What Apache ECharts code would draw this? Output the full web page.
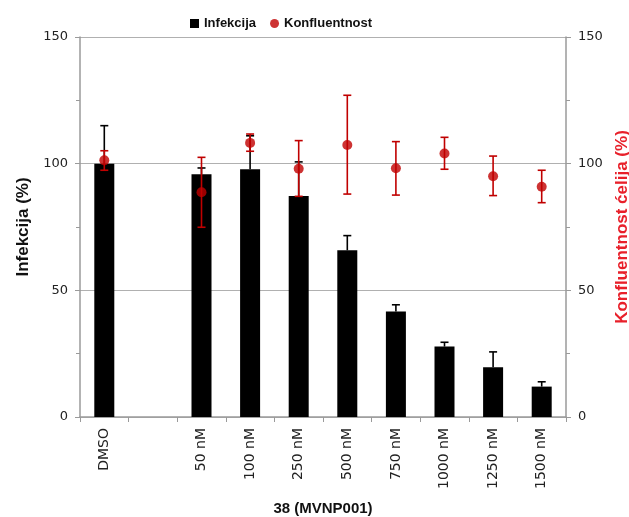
<!DOCTYPE html>
<html>
<head>
<meta charset="utf-8">
<script src="https://cdn.jsdelivr.net/npm/echarts@6/dist/echarts.min.js"></script>
<style>html,body{margin:0;padding:0;background:#fff;overflow:hidden}#c{width:629px;height:517px}</style>
</head>
<body>
<div id="c"></div>
<script>
var categories = ['DMSO', '', '50 nM', '100 nM', '250 nM', '500 nM', '750 nM', '1000 nM', '1250 nM', '1500 nM'];
var infekcija = [100, null, 95.8, 97.8, 87.2, 65.8, 41.6, 27.8, 19.6, 12.0];
var infekcijaErrTop = [115, null, 98.3, 111, 100.7, 71.6, 44.3, 29.5, 25.7, 13.9];
var konfluentnost = [101.3, null, 88.7, 108.2, 98.0, 107.4, 98.2, 104.0, 95.0, 90.9];
var konfLow = [97.4, null, 74.9, 104.9, 87.1, 88.0, 87.6, 97.8, 87.4, 84.6];
var konfHigh = [105.1, null, 102.5, 111.7, 109.1, 127.0, 108.7, 110.4, 103.0, 97.4];
var yTicks = [0, 50, 100, 150];

var barErrData = [], konfErrData = [], scatterData = [];
for (var i = 0; i < categories.length; i++) {
  if (infekcija[i] != null) barErrData.push([i, infekcija[i], infekcijaErrTop[i]]);
  if (konfluentnost[i] != null) {
    konfErrData.push([i, konfLow[i], konfHigh[i]]);
    scatterData.push([i, konfluentnost[i]]);
  }
}

function errRender(color, bottomCap) {
  return function (params, api) {
    var x = api.value(0);
    var lo = api.coord([x, api.value(1)]);
    var hi = api.coord([x, api.value(2)]);
    var hw = 4;
    var st = { stroke: color, lineWidth: 1.6 };
    var ch = [
      { type: 'line', shape: { x1: lo[0], y1: lo[1], x2: hi[0], y2: hi[1] }, style: st },
      { type: 'line', shape: { x1: hi[0] - hw, y1: hi[1], x2: hi[0] + hw, y2: hi[1] }, style: st }
    ];
    if (bottomCap) ch.push({ type: 'line', shape: { x1: lo[0] - hw, y1: lo[1], x2: lo[0] + hw, y2: lo[1] }, style: st });
    return { type: 'group', children: ch };
  };
}

var axisGray = '#9a9a9a';
var tickFont = { fontFamily: 'DejaVu Sans', fontSize: 13, color: '#222' };
var chart = echarts.init(document.getElementById('c'), null, { renderer: 'canvas' });
chart.setOption({
  animation: false,
  backgroundColor: '#fff',
  legend: {
    left: 185, top: 12,
    itemWidth: 9, itemHeight: 9, itemGap: 14,
    textStyle: { fontFamily: 'Liberation Sans', fontWeight: 'bold', fontSize: 13, color: '#111' },
    data: [
      { name: 'Infekcija', icon: 'rect', itemStyle: { color: '#000', borderWidth: 0 } },
      { name: 'Konfluentnost', icon: 'circle' }
    ]
  },
  grid: { left: 80, right: 63, top: 37, bottom: 100, containLabel: false, outerBoundsMode: 'none' },
  xAxis: {
    type: 'category',
    data: categories,
    name: '38 (MVNP001)',
    nameLocation: 'middle',
    nameGap: 84,
    nameTextStyle: { fontFamily: 'Liberation Sans', fontWeight: 'bold', fontSize: 15, color: '#111' },
    axisLine: { lineStyle: { color: axisGray, width: 1.5 } },
    axisTick: { show: true, alignWithLabel: false, length: 5, lineStyle: { color: axisGray } },
    axisLabel: { rotate: 90, interval: 0, margin: 11, fontSize: 14, fontFamily: 'DejaVu Sans', color: '#222' }
  },
  yAxis: [
    {
      type: 'value', min: 0, max: 150, interval: 50,
      name: 'Infekcija (%)', nameLocation: 'middle', nameGap: 48, nameRotate: 90,
      nameTextStyle: { fontFamily: 'Liberation Sans', fontWeight: 'bold', fontSize: 17, color: '#111' },
      axisLine: { show: true, lineStyle: { color: axisGray, width: 1.5 } },
      axisTick: { show: true, length: 5, lineStyle: { color: axisGray } },
      minorTick: { show: true, splitNumber: 2, length: 4, lineStyle: { color: axisGray } },
      axisLabel: Object.assign({ margin: 12, formatter: function (v) { return yTicks.indexOf(v) >= 0 ? String(v) : ''; } }, tickFont),
      splitLine: { show: true, lineStyle: { color: '#b0b0b0', width: 1.2 } }
    },
    {
      type: 'value', min: 0, max: 150, interval: 50, position: 'right',
      name: 'Konfluentnost ćelija (%)', nameLocation: 'middle', nameGap: 46, nameRotate: 90,
      nameTextStyle: { fontFamily: 'Liberation Sans', fontWeight: 'bold', fontSize: 17, color: '#e8202a' },
      axisLine: { show: true, lineStyle: { color: axisGray, width: 1.5 } },
      axisTick: { show: true, length: 5, lineStyle: { color: axisGray } },
      minorTick: { show: true, splitNumber: 2, length: 4, lineStyle: { color: axisGray } },
      axisLabel: Object.assign({ margin: 12, formatter: function (v) { return yTicks.indexOf(v) >= 0 ? String(v) : ''; } }, tickFont),
      splitLine: { show: false }
    }
  ],
  series: [
    {
      name: 'Infekcija', type: 'bar', data: infekcija, barWidth: 20,
      itemStyle: { color: '#000' }, z: 2
    },
    {
      name: 'InfErr', type: 'custom', data: barErrData, renderItem: errRender('#000', false),
      encode: { x: 0, y: [1, 2] }, z: 3, silent: true
    },
    {
      name: 'KonfErr', type: 'custom', yAxisIndex: 1, data: konfErrData, renderItem: errRender('#c00000', true),
      encode: { x: 0, y: [1, 2] }, z: 4, silent: true
    },
    {
      name: 'Konfluentnost', type: 'scatter', yAxisIndex: 1, data: scatterData, symbol: 'circle', symbolSize: 10,
      itemStyle: { color: '#c00000' }, z: 5
    }
  ]
});
</script>
</body>
</html>
